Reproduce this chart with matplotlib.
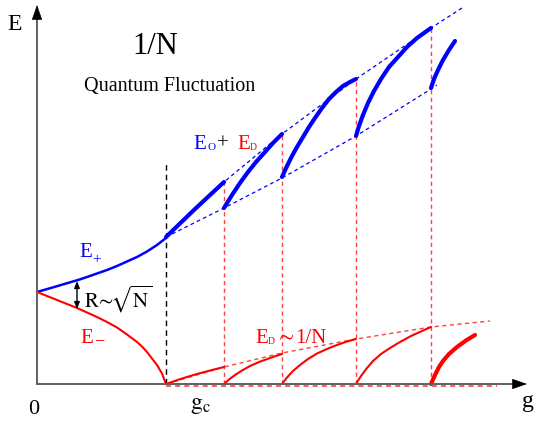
import matplotlib
matplotlib.use("Agg")
import matplotlib.pyplot as plt

plt.rcParams['font.family'] = ['Liberation Serif', 'DejaVu Serif']
plt.rcParams['mathtext.fontset'] = 'stix'

BLUE = '#0000ff'
RED = '#ff0000'
RED_DASH = '#ff4040'
AXIS = '#606060'

# coupling g and energy E (arbitrary units)
g_c = 129
g_cuts = [187, 245, 319, 394]

e_plus_g = [0, 10, 20, 30, 41, 50, 60, 70, 80, 90, 100, 110, 120, 129]
e_plus = [92, 94.9, 97.8, 100.8, 104, 107, 110.5, 114, 118, 122.5, 127, 132.5, 139, 146]
e_minus_g = [0, 10, 20, 30, 40, 50, 60, 70, 80, 90, 100, 105, 110, 115, 120, 125, 129]
e_minus = [92, 88, 84, 80, 76, 71.5, 67, 62, 56.5, 49.5, 42, 37.5, 32, 25.5, 19, 10.5, 0]

# E_O + E_D branches (blue)
blue_seg_g = [[129, 158, 187],
              [187, 195, 203, 211, 219, 228, 236, 245],
              [245, 250, 255, 260, 266, 272, 278, 285, 292, 299, 306, 313, 319],
              [319, 322, 326, 331, 337, 344, 352, 361, 370, 380, 394],
              [394, 397, 401, 406, 412, 418]]
blue_seg_e = [[147, 175, 202],
              [176, 189, 201, 212, 222, 232, 241, 250],
              [207, 218, 228, 237, 247, 257, 266, 276, 285, 292, 298, 302, 305],
              [248, 258, 269, 281, 293, 305, 317, 327, 337, 346, 356],
              [296, 305, 314, 324, 334, 343]]
upper_blue_g = [129, 187, 245, 319, 394, 425]
upper_blue_e = [147, 202, 250, 305, 356, 376]
lower_blue_g = [129, 187, 245, 319, 394, 400]
lower_blue_e = [147, 176, 206, 248, 295, 299]

# E_D branches (red)
red_seg_g = [[129, 145, 160, 175, 187],
             [187, 192, 198, 205, 213, 222, 233, 245],
             [245, 250, 256, 263, 271, 280, 290, 300, 310, 319],
             [319, 324, 330, 336, 344, 353, 363, 374, 385, 394],
             [394, 398, 402, 406, 412, 420, 429, 438]]
red_seg_e = [[0, 5.5, 10, 14, 17],
             [0, 4.5, 9, 13.5, 18, 22, 26, 30],
             [0, 6.5, 13, 19, 25, 30.5, 35, 39, 42.5, 45],
             [0, 8, 16, 23, 30, 36, 42, 48, 53, 57],
             [0, 9, 17, 23, 30, 37, 43.5, 49]]
upper_red_g = [129, 187, 245, 319, 394, 453]
upper_red_e = [0, 17, 31, 45, 57, 63]
red_base_end = 460

g_max = 490
e_max = 379

fig = plt.figure(figsize=(5.34, 4.24), dpi=100)
ax = fig.add_axes([0, 0, 1, 1])
ax.set_xlim(-37, 497)
ax.set_ylim(-40, 384)
ax.axis('off')

# axes
ax.plot([0, g_max - 10], [0, 0], color=AXIS, lw=1.4, zorder=3)
ax.plot([0, 0], [0, e_max - 10], color=AXIS, lw=1.4, zorder=3)
arw = dict(arrowstyle='-|>,head_length=0.4,head_width=0.14', color='black',
           lw=0.5, mutation_scale=24, shrinkA=0, shrinkB=0)
ax.annotate('', xy=(g_max, 0), xytext=(g_max - 12, 0), arrowprops=arw)
ax.annotate('', xy=(0, e_max), xytext=(0, e_max - 12), arrowprops=arw)

# E+ and E-
ax.plot(e_plus_g, e_plus, color=BLUE, lw=1.8, solid_capstyle='round', solid_joinstyle='round')
ax.plot(e_minus_g, e_minus, color=RED, lw=1.5, solid_capstyle='round', solid_joinstyle='round')

# g_c marker
ax.plot([g_c, g_c], [0, 222], color='black', lw=1, ls=(0, (4, 3)))

# dashed envelopes
ax.plot(upper_blue_g, upper_blue_e, color=BLUE, lw=0.9, ls=(0, (3, 2.5)))
ax.plot(lower_blue_g, lower_blue_e, color=BLUE, lw=0.9, ls=(0, (3, 2.5)))
ax.plot(upper_red_g, upper_red_e, color=RED_DASH, lw=1, ls=(0, (3, 2.5)))
ax.plot([g_c, red_base_end], [-1.5, -1.5], color=RED_DASH, lw=1.2, ls=(0, (3, 2.5)), zorder=2)
for gx, top in zip(g_cuts, upper_blue_e[1:5]):
    ax.plot([gx, gx], [0, top], color=RED_DASH, lw=1, ls=(0, (3, 2.5)))

# solid branches
for gs, es in zip(blue_seg_g, blue_seg_e):
    ax.plot(gs, es, color=BLUE, lw=3, solid_capstyle='round', solid_joinstyle='round')
for i, (gs, es) in enumerate(zip(red_seg_g, red_seg_e)):
    ax.plot(gs, es, color=RED, lw=3 if i == len(red_seg_g) - 1 else 1.5,
            solid_capstyle='round', solid_joinstyle='round')

# splitting arrow
ax.annotate('', xy=(40, 103), xytext=(40, 75),
            arrowprops=dict(arrowstyle='<|-|>,head_length=0.5,head_width=0.2',
                            color='black', lw=1, mutation_scale=8,
                            shrinkA=0, shrinkB=0))

# labels
ax.text(-22, 359, 'E', fontsize=17, ha='center', va='center')
ax.text(-3, -25, '0', fontsize=16, ha='center', va='center')
ax.text(153, -21, r'$\mathrm{g}_{\mathrm{c}}$', fontsize=17, ha='left', va='center')
ax.text(491, -18, 'g', fontsize=17, ha='center', va='center')
ax.text(118, 337, '1/N', fontsize=22, ha='center', va='center')
ax.text(133, 298, 'Quantum Fluctuation', fontsize=14.5, ha='center', va='center')

ax.text(156, 235, 'E', fontsize=15, color=BLUE, va='baseline')
ax.text(170, 234, 'O', fontsize=8, color=BLUE, va='baseline')
ax.text(180, 235, '+', fontsize=15, color='black', va='baseline')
ax.text(200, 235, 'E', fontsize=15, color=RED, va='baseline')
ax.text(213, 234, 'D', fontsize=7, color=RED, va='baseline')

ax.text(42, 127, 'E', fontsize=15, color=BLUE, va='baseline')
ax.text(55, 121, '+', fontsize=11, color=BLUE, va='baseline')
ax.text(43, 41, 'E', fontsize=15, color=RED, va='baseline')
ax.text(57, 39, '\u2212', fontsize=13, color=RED, va='baseline')

ax.text(47, 85, r'$\mathrm{R}\!\sim\!\!\sqrt{\mathrm{N}}$', fontsize=15, va='center')

ax.text(218, 41, 'E', fontsize=15, color=RED, va='baseline')
ax.text(231, 40, 'D', fontsize=7, color=RED, va='baseline')
ax.text(238, 47, r'$\sim$', fontsize=16, color=RED, va='center')
ax.text(258, 41, '1/N', fontsize=15, color=RED, va='baseline')

fig.savefig('out.png', dpi=100)
